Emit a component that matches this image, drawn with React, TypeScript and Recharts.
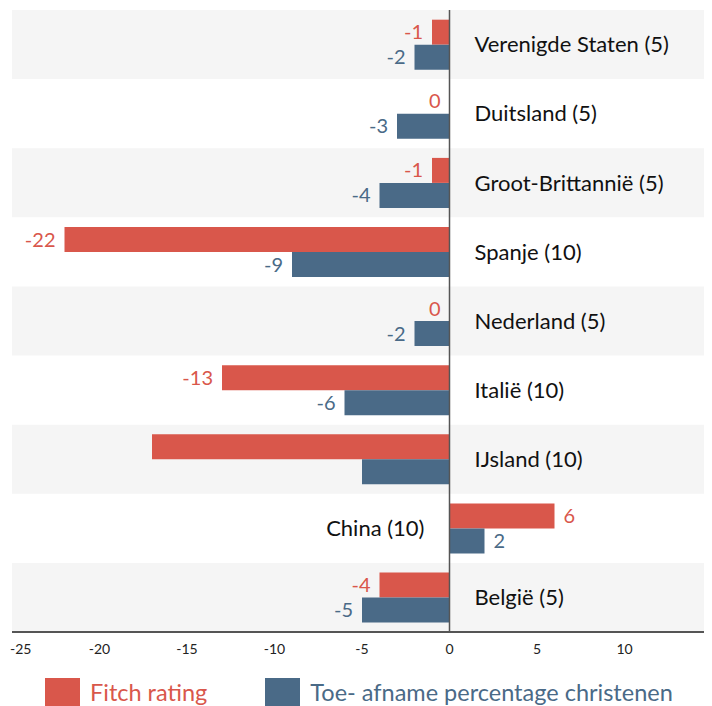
import React from "react"
import {
  BarChart,
  Bar,
  XAxis,
  YAxis,
  ReferenceArea,
  ReferenceLine,
  LabelList,
} from "recharts"

const categories = [
  "Verenigde Staten (5)",
  "Duitsland (5)",
  "Groot-Brittannië (5)",
  "Spanje (10)",
  "Nederland (5)",
  "Italië (10)",
  "IJsland (10)",
  "China (10)",
  "België (5)",
]
const fitch = [-1, 0, -1, -22, 0, -13, -17, 6, -4]
const christians = [-2, -3, -4, -9, -2, -6, -5, 2, -5]
const xTicks = [-25, -20, -15, -10, -5, 0, 5, 10]
const unlabeled = ["IJsland (10)"]
const shaded = ["Verenigde Staten (5)", "Groot-Brittannië (5)", "Nederland (5)", "IJsland (10)", "België (5)"]

const RED = "#d9574b"
const BLUE = "#4a6a87"
const FONT = "Lato, 'Open Sans', sans-serif"

const data = categories.map((name, i) => ({
  name,
  fitch: fitch[i],
  christians: christians[i],
}))

// red bars with value 0 get no label slot, so all labels hang off the blue bars
function rowLabels(props: any) {
  const { x, y, width, height, index } = props
  const c = christians[index]
  const f = fitch[index]
  const left = Math.min(x, x + width)
  const right = Math.max(x, x + width)
  const zero = c < 0 ? right : left
  const perUnit = Math.abs(width) / Math.abs(c)
  const redEnd = zero + f * perUnit
  const showValues = !unlabeled.includes(categories[index])
  const catRight = f > 0

  return (
    <g fontFamily={FONT}>
      {showValues && (
        <>
          <text
            x={f > 0 ? redEnd + 9 : redEnd - 9}
            y={y - height / 2}
            dy="0.35em"
            textAnchor={f > 0 ? "start" : "end"}
            fill={RED}
            fontSize={20}
          >
            {f}
          </text>
          <text
            x={c > 0 ? right + 9 : left - 9}
            y={y + height / 2}
            dy="0.35em"
            textAnchor={c > 0 ? "start" : "end"}
            fill={BLUE}
            fontSize={20}
          >
            {c}
          </text>
        </>
      )}
      <text
        x={catRight ? zero - 25 : zero + 25}
        y={y}
        dy="0.35em"
        textAnchor={catRight ? "end" : "start"}
        fill="#111"
        fontSize={22}
      >
        {categories[index]}
      </text>
    </g>
  )
}

function AxisTick(props: any) {
  const { x, y, payload, index } = props
  const first = index === 0
  return (
    <text
      x={first ? x - 2 : x}
      y={y}
      dy="0.71em"
      textAnchor={first ? "start" : "middle"}
      fill="#222"
      fontSize={14}
      fontFamily={FONT}
    >
      {payload.value}
    </text>
  )
}

export default function App() {
  return (
    <div style={{ width: 704, fontFamily: FONT }}>
      <BarChart
        width={704}
        height={656}
        data={data}
        layout="vertical"
        margin={{ top: 2, right: 0, left: 4, bottom: 2 }}
        barCategoryGap="14%"
        barGap={0}
      >
        {shaded.map((c) => (
          <ReferenceArea key={c} y1={c} y2={c} x1={-25} x2={15} fill="#f5f5f5" fillOpacity={1} stroke="none" />
        ))}
        <XAxis
          type="number"
          domain={[-25, 15]}
          ticks={xTicks}
          interval={0}
          tickLine={false}
          axisLine={{ stroke: "#555", strokeWidth: 2 }}
          tick={<AxisTick />}
          tickMargin={6}
          height={30}
        />
        <YAxis type="category" dataKey="name" hide />
        <Bar dataKey="fitch" fill={RED} isAnimationActive={false} />
        <Bar dataKey="christians" fill={BLUE} isAnimationActive={false}>
          <LabelList dataKey="christians" content={rowLabels} />
        </Bar>
        <ReferenceLine x={0} stroke="#555" strokeWidth={1.5} />
      </BarChart>
      <div style={{ display: "flex", alignItems: "center", paddingTop: 14, paddingLeft: 37, height: 28 }}>
        <span style={{ width: 35, height: 28, background: RED, display: "inline-block" }} />
        <span style={{ color: RED, fontSize: 23.5, marginLeft: 10, marginRight: 58 }}>Fitch rating</span>
        <span style={{ width: 35, height: 28, background: BLUE, display: "inline-block" }} />
        <span style={{ color: BLUE, fontSize: 23.5, marginLeft: 10 }}>Toe- afname percentage christenen</span>
      </div>
    </div>
  )
}
